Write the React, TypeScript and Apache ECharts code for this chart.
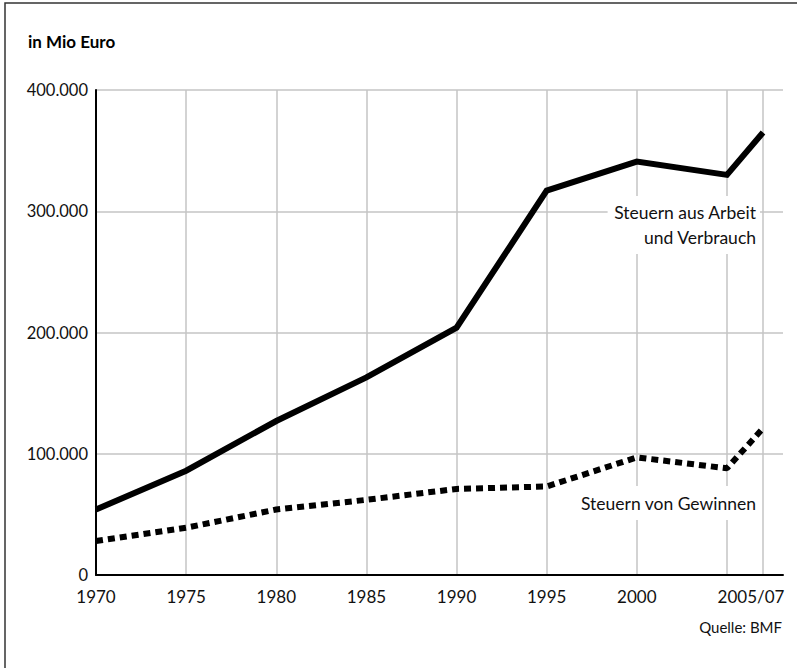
import React, { useEffect, useRef } from "react";
import * as echarts from "echarts";

const years = [1970, 1975, 1980, 1985, 1990, 1995, 2000, 2005, 2007];
const arbeitVerbrauch = [54000, 86000, 127000, 163000, 204000, 317000, 341000, 330000, 365000];
const gewinne = [28000, 39000, 54000, 62000, 71000, 73000, 97000, 88000, 121000];
const yTicks = [0, 100000, 200000, 300000, 400000];
const lastLabel = "2005/07";

const FONT = "Lato, 'Open Sans', sans-serif";

export default function App() {
  const ref = useRef<HTMLDivElement>(null);
  useEffect(() => {
    if (!ref.current) return;
    const chart = echarts.init(ref.current, undefined, { renderer: "svg" });
    const fmtY = (v: number) =>
      v === 0 ? "0" : String(v).replace(/\B(?=(\d{3})+(?!\d))/g, ".");
    const option = {
      animation: false,
      backgroundColor: "#fff",
      textStyle: { fontFamily: FONT },
      grid: [
        { left: 96, right: 14, top: 90, bottom: 93 },
        { left: 96, right: 34, top: 90, bottom: 93 },
      ],
      xAxis: [
        {
          gridIndex: 0,
          type: "value",
          min: 0,
          max: 1,
          z: 5,
          axisLine: { show: true, lineStyle: { color: "#000", width: 2 } },
          axisTick: { show: false },
          axisLabel: { show: false },
          splitLine: { show: false },
        },
        {
          gridIndex: 1,
          type: "value",
          min: years[0],
          max: years[years.length - 1],
          interval: 5,
          z: 1,
          axisLine: { show: false },
          axisTick: { show: false },
          splitLine: { show: true, lineStyle: { color: "#c4c4c4", width: 1.5 } },
          axisLabel: {
            show: true,
            margin: 13,
            fontSize: 17,
            color: "#111",
            fontFamily: FONT,
            showMinLabel: true,
            showMaxLabel: true,
            formatter: (v: number) => {
              if (v === years[years.length - 1]) return "{last|" + lastLabel + "}";
              if (v === 2005) return "";
              return String(v);
            },
            rich: {
              last: { fontSize: 17, color: "#111", fontFamily: FONT, padding: [0, 24, 0, 0] },
            },
          },
        },
      ],
      yAxis: [
        {
          gridIndex: 0,
          type: "value",
          min: yTicks[0],
          max: yTicks[yTicks.length - 1],
          interval: 100000,
          z: 5,
          axisLine: { show: true, lineStyle: { color: "#000", width: 2 } },
          axisTick: { show: false },
          splitLine: { show: true, lineStyle: { color: "#c4c4c4", width: 1.5 } },
          axisLabel: { margin: 8, fontSize: 16.5, color: "#111", fontFamily: FONT, formatter: fmtY },
        },
        {
          gridIndex: 1,
          type: "value",
          min: yTicks[0],
          max: yTicks[yTicks.length - 1],
          interval: 100000,
          show: false,
        },
      ],
      series: [
        {
          type: "line",
          xAxisIndex: 1,
          yAxisIndex: 1,
          data: years.map((y, i) => [y, arbeitVerbrauch[i]]),
          symbol: "none",
          z: 10,
          lineStyle: { color: "#000", width: 6, join: "miter" },
        },
        {
          type: "line",
          xAxisIndex: 1,
          yAxisIndex: 1,
          data: years.map((y, i) => [y, gewinne[i]]),
          symbol: "none",
          z: 10,
          lineStyle: { color: "#000", width: 6, type: [7, 5], cap: "butt" },
        },
      ],
      graphic: [
        {
          type: "rect",
          shape: { x: 5, y: 3, width: 1000, height: 1000 },
          style: { fill: "none", stroke: "#333", lineWidth: 1.5 },
          z: 100,
        },
        {
          type: "text",
          left: 28,
          top: 33,
          style: { text: "in Mio Euro", fontSize: 17, fontWeight: "bold", fill: "#000", fontFamily: FONT },
        },
        {
          type: "text",
          x: 760,
          y: 225,
          z: 50,
          style: {
            text: "Steuern aus Arbeit\nund Verbrauch",
            align: "right",
            verticalAlign: "middle",
            fontSize: 17.5,
            lineHeight: 25,
            fill: "#111",
            fontFamily: FONT,
            backgroundColor: "#fff",
            padding: [4, 4, 4, 6],
          },
        },
        {
          type: "text",
          x: 760,
          y: 503,
          z: 50,
          style: {
            text: "Steuern von Gewinnen",
            align: "right",
            verticalAlign: "middle",
            fontSize: 17.5,
            fill: "#111",
            fontFamily: FONT,
            backgroundColor: "#fff",
            padding: [8, 4, 8, 6],
          },
        },
        {
          type: "text",
          x: 782,
          y: 627,
          style: {
            text: "Quelle: BMF",
            align: "right",
            verticalAlign: "middle",
            fontSize: 15,
            fill: "#111",
            fontFamily: FONT,
          },
        },
      ],
    };
    chart.setOption(option as any);
    return () => chart.dispose();
  }, []);
  return (
    <div
      ref={ref}
      style={{ position: "fixed", left: 0, top: 0, width: 797, height: 668 }}
    />
  );
}
